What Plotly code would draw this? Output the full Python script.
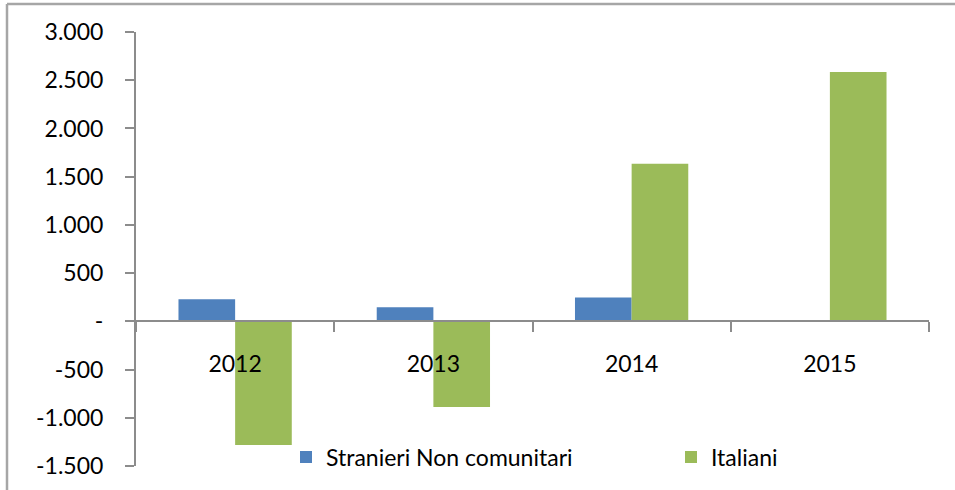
import plotly.graph_objects as go

categories = ["2012", "2013", "2014", "2015"]
stranieri = [228, 145, 248, 0]
italiani = [-1282, -889, 1634, 2585]
series_names = ["Stranieri Non comunitari", "Italiani"]
y_tickvals = [3000, 2500, 2000, 1500, 1000, 500, 0, -500, -1000, -1500]
y_ticktext = ["3.000", "2.500", "2.000", "1.500", "1.000", "500", "-", "-500", "-1.000", "-1.500"]

W, H = 955, 490
ml, mr, mt, mb = 136, 26, 32, 23
pw, ph = W - ml - mr, H - mt - mb

FONT = "Lato"
FS = 23
fig = go.Figure()
fig.add_trace(go.Bar(x=categories, y=stranieri, name=series_names[0], legend="legend",
                     marker=dict(color="#4f81bd", line=dict(width=0))))
fig.add_trace(go.Bar(x=categories, y=italiani, name=series_names[1], legend="legend2",
                     marker=dict(color="#9bbb59", line=dict(width=0))))

zero_frac = (0 - (-1500)) / (3000 - (-1500))
leg_y = (H - 457 - mb) / ph
leg_common = dict(orientation="h", xanchor="left", y=leg_y, yanchor="middle",
                  font=dict(family=FONT, size=FS, color="#000000"),
                  bgcolor="rgba(0,0,0,0)", itemclick=False, borderwidth=0)

fig.update_layout(
    width=W, height=H,
    margin=dict(l=ml, r=mr, t=mt, b=mb, pad=0),
    paper_bgcolor="white", plot_bgcolor="white",
    barmode="group", bargap=1.5 / 3.5, bargroupgap=0,
    font=dict(family=FONT, size=FS, color="#000000"),
    showlegend=True,
    legend=dict(x=(286 - ml) / pw, **leg_common),
    legend2=dict(x=(671 - ml) / pw, **leg_common),
    xaxis=dict(anchor="free", position=zero_frac, showline=True, linecolor="#8c8c8c",
               linewidth=2, ticks="outside", tickson="boundaries", ticklen=10,
               tickcolor="#8c8c8c", tickwidth=2, showgrid=False, zeroline=False,
               ticklabelstandoff=22, tickfont=dict(family=FONT, size=FS)),
    yaxis=dict(range=[-1500, 3000], tickvals=y_tickvals, ticktext=y_ticktext,
               showline=True, linecolor="#8c8c8c", linewidth=2, ticks="outside",
               ticklen=9, tickcolor="#8c8c8c", tickwidth=2, showgrid=False,
               zeroline=False, ticklabelstandoff=17, tickfont=dict(family=FONT, size=FS)),
)

# outer chart border (top and left edges visible)
bx = (7 - ml) / pw
by = (H - 4 - mb) / ph
by0 = (H - 495 - mb) / ph
fig.add_shape(type="line", xref="paper", yref="paper", x0=bx, x1=(W + 5 - ml) / pw, y0=by, y1=by,
              line=dict(color="#a6a6a6", width=2.5))
fig.add_shape(type="line", xref="paper", yref="paper", x0=bx, x1=bx, y0=by, y1=by0,
              line=dict(color="#a6a6a6", width=2.5))

fig.write_html("out.html", config={"displayModeBar": False},
               post_script="document.body.style.margin='0';document.body.style.overflow='hidden';")
